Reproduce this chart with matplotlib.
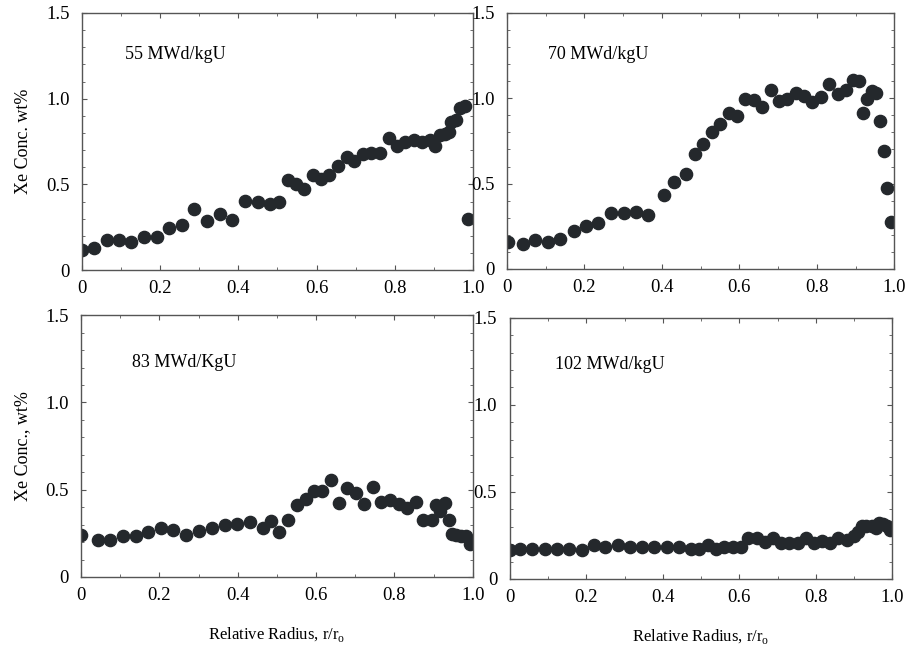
import matplotlib
matplotlib.use("Agg")
import matplotlib.pyplot as plt
from matplotlib.ticker import FixedLocator, FixedFormatter, MultipleLocator

plt.rcParams['font.family'] = ['Liberation Serif', 'DejaVu Serif']

# ---- data ----
x55 = [0.0, 0.03, 0.064, 0.095, 0.125, 0.159, 0.191, 0.222, 0.255, 0.287, 0.319, 0.353,
       0.384, 0.417, 0.449, 0.481, 0.504, 0.527, 0.548, 0.569, 0.591, 0.611, 0.632, 0.655,
       0.677, 0.697, 0.719, 0.740, 0.763, 0.786, 0.807, 0.827, 0.849, 0.871, 0.891, 0.904,
       0.915, 0.928, 0.938, 0.945, 0.957, 0.966, 0.980, 0.987]
y55 = [0.12, 0.13, 0.175, 0.175, 0.163, 0.192, 0.192, 0.245, 0.262, 0.356, 0.286, 0.328,
       0.293, 0.402, 0.396, 0.385, 0.396, 0.525, 0.505, 0.474, 0.558, 0.534, 0.558, 0.608,
       0.659, 0.635, 0.678, 0.686, 0.686, 0.769, 0.727, 0.750, 0.758, 0.746, 0.760, 0.727,
       0.789, 0.797, 0.804, 0.863, 0.878, 0.948, 0.956, 0.299]

x70 = [0.002, 0.040, 0.073, 0.106, 0.137, 0.172, 0.203, 0.235, 0.268, 0.301, 0.333, 0.365,
       0.405, 0.430, 0.463, 0.486, 0.507, 0.528, 0.549, 0.572, 0.595, 0.615, 0.637, 0.659,
       0.681, 0.703, 0.724, 0.745, 0.767, 0.788, 0.810, 0.831, 0.855, 0.876, 0.894, 0.908,
       0.919, 0.930, 0.942, 0.953, 0.963, 0.974, 0.982, 0.991]
y70 = [0.158, 0.146, 0.172, 0.160, 0.178, 0.223, 0.252, 0.270, 0.326, 0.326, 0.332, 0.314,
       0.434, 0.508, 0.557, 0.676, 0.734, 0.803, 0.848, 0.914, 0.896, 0.998, 0.992, 0.949,
       1.051, 0.986, 0.998, 1.033, 1.016, 0.980, 1.006, 1.082, 1.023, 1.051, 1.107, 1.100,
       0.916, 0.998, 1.043, 1.031, 0.869, 0.689, 0.475, 0.273]

x83 = [0.0, 0.044, 0.074, 0.108, 0.140, 0.172, 0.204, 0.235, 0.269, 0.302, 0.335, 0.367,
       0.399, 0.432, 0.464, 0.485, 0.506, 0.529, 0.551, 0.573, 0.594, 0.616, 0.638, 0.658,
       0.680, 0.702, 0.723, 0.745, 0.766, 0.788, 0.811, 0.833, 0.854, 0.874, 0.896, 0.906,
       0.917, 0.929, 0.939, 0.947, 0.958, 0.970, 0.983, 0.992]
y83 = [0.243, 0.210, 0.210, 0.237, 0.237, 0.256, 0.279, 0.272, 0.243, 0.264, 0.283, 0.296,
       0.304, 0.314, 0.279, 0.319, 0.260, 0.327, 0.415, 0.447, 0.491, 0.493, 0.556, 0.424,
       0.512, 0.482, 0.419, 0.516, 0.428, 0.440, 0.419, 0.394, 0.428, 0.327, 0.327, 0.415,
       0.379, 0.423, 0.327, 0.245, 0.243, 0.233, 0.237, 0.191]

x102 = [0.002, 0.028, 0.058, 0.091, 0.123, 0.155, 0.189, 0.219, 0.250, 0.283, 0.315, 0.346,
        0.378, 0.410, 0.442, 0.473, 0.494, 0.517, 0.539, 0.561, 0.583, 0.604, 0.622, 0.645,
        0.666, 0.687, 0.710, 0.730, 0.752, 0.774, 0.795, 0.816, 0.837, 0.857, 0.880, 0.900,
        0.910, 0.920, 0.932, 0.946, 0.957, 0.965, 0.976, 0.986, 0.994]
y102 = [0.166, 0.173, 0.173, 0.173, 0.173, 0.173, 0.166, 0.194, 0.185, 0.193, 0.185, 0.185,
        0.185, 0.185, 0.185, 0.173, 0.173, 0.194, 0.173, 0.185, 0.185, 0.185, 0.233, 0.233,
        0.214, 0.237, 0.204, 0.204, 0.204, 0.237, 0.204, 0.216, 0.204, 0.237, 0.223, 0.248,
        0.272, 0.304, 0.304, 0.304, 0.293, 0.320, 0.316, 0.304, 0.281]

panel_labels = ['55 MWd/kgU', '70 MWd/kgU', '83 MWd/KgU', '102 MWd/kgU']
ylabels = ['Xe Conc. wt%', None, 'Xe Conc., wt%', None]
xlabel = 'Relative Radius, r/r$_\\mathregular{o}$'

xtick_vals = [0, 0.2, 0.4, 0.6, 0.8, 1.0]
xtick_labels = ['0', '0.2', '0.4', '0.6', '0.8', '1.0']
ytick_vals = [0, 0.5, 1.0, 1.5]
ytick_labels = ['0', '0.5', '1.0', '1.5']

series = [(x55, y55), (x70, y70), (x83, y83), (x102, y102)]

# ---- layout ----
fig = plt.figure(figsize=(9.07, 6.48), dpi=100)
positions = [
    [0.0904, 0.583, 0.431, 0.397],
    [0.559, 0.585, 0.427, 0.395],
    [0.0893, 0.1096, 0.432, 0.404],
    [0.562, 0.1065, 0.422, 0.403],
]
label_pos = [(0.11, 0.837), (0.106, 0.836), (0.13, 0.82), (0.117, 0.82)]

marker_color = '#24282c'
spine_color = '#555555'

for i, (pos, (xs, ys)) in enumerate(zip(positions, series)):
    ax = fig.add_axes(pos)
    ax.plot(xs, ys, linestyle='none', marker='o', markersize=8.8,
            color=marker_color, markeredgecolor=marker_color)
    ax.set_xlim(0, 1.0)
    ax.set_ylim(0, 1.5)
    ax.xaxis.set_major_locator(FixedLocator(xtick_vals))
    ax.xaxis.set_major_formatter(FixedFormatter(xtick_labels))
    ax.yaxis.set_major_locator(FixedLocator(ytick_vals))
    ax.yaxis.set_major_formatter(FixedFormatter(ytick_labels))
    ax.xaxis.set_minor_locator(MultipleLocator(0.1))
    ax.yaxis.set_minor_locator(MultipleLocator(0.1))
    ax.tick_params(which='both', direction='in', top=True, right=True,
                   color=spine_color, labelsize=13.5)
    ax.tick_params(axis='y', pad=9)
    ax.tick_params(axis='x', pad=7)
    ax.tick_params(which='major', length=3.5, width=0.8)
    ax.tick_params(which='minor', length=2.5, width=0.6)
    for sp in ax.spines.values():
        sp.set_color(spine_color)
        sp.set_linewidth(1.0)
    ax.text(label_pos[i][0], label_pos[i][1], panel_labels[i],
            transform=ax.transAxes, fontsize=13, va='center', ha='left')
    if ylabels[i]:
        ax.set_ylabel(ylabels[i], fontsize=13, labelpad=10)
    if i >= 2:
        ax.set_xlabel(xlabel, fontsize=12, labelpad=15)

fig.savefig('out.png', dpi=100)
